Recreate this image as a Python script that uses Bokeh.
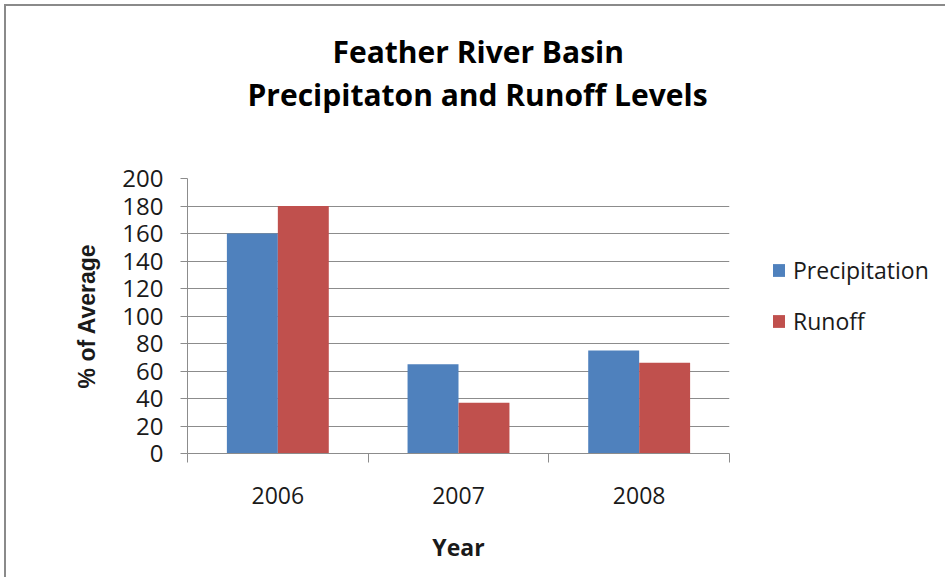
from bokeh.plotting import figure
from bokeh.models import Range1d, FixedTicker, Legend, Title
from bokeh.embed import file_html
from bokeh.resources import INLINE

# ---- data ----
years = ["2006", "2007", "2008"]
precipitation = [160, 65, 75]
runoff = [180, 37, 66]
y_ticks = [0, 20, 40, 60, 80, 100, 120, 140, 160, 180, 200]
title_lines = ["Feather River Basin", "Precipitaton and Runoff Levels"]
series_names = ["Precipitation", "Runoff"]
series_colors = ["#4F81BD", "#C0504D"]

BAR_W = 0.282
centers = [i + 0.5 for i in range(len(years))]
bounds = [float(i) for i in range(len(years) + 1)]

p = figure(
    frame_width=542, frame_height=275,
    min_border_left=181, min_border_right=216,
    min_border_top=172, min_border_bottom=124,
    x_range=Range1d(0, len(years)), y_range=Range1d(0, 200),
    output_backend="svg", toolbar_location=None,
    stylesheets=[":host { margin-left: 4px; margin-top: 4px; "
                 "border-left: 2px solid #8a8a8a; border-top: 2px solid #8a8a8a; }"],
)
p.outline_line_color = None
p.background_fill_color = "white"
p.border_fill_color = "white"

r1 = p.vbar(x=[c - BAR_W / 2 for c in centers], top=precipitation, width=BAR_W,
            fill_color=series_colors[0], line_color=None)
r2 = p.vbar(x=[c + BAR_W / 2 for c in centers], top=runoff, width=BAR_W,
            fill_color=series_colors[1], line_color=None)

# grid
p.xgrid.visible = False
p.ygrid.ticker = FixedTicker(ticks=y_ticks)
p.ygrid.grid_line_color = "#8c8c8c"
p.ygrid.grid_line_width = 1

AX = "#8c8c8c"
FONT = "Open Sans"

# y axis
ya = p.yaxis[0]
ya.ticker = FixedTicker(ticks=y_ticks)
ya.axis_line_color = AX
ya.major_tick_line_color = AX
ya.major_tick_out = 7
ya.major_tick_in = 0
ya.minor_tick_line_color = None
ya.major_label_text_font = FONT
ya.major_label_text_font_size = "24px"
ya.major_label_text_color = "#1a1a1a"
ya.major_label_standoff = 17
ya.axis_label = "% of Average"
ya.axis_label_text_font = "Liberation Sans"
ya.axis_label_text_font_style = "bold"
ya.axis_label_text_font_size = "23px"
ya.axis_label_text_color = "#1a1a1a"
ya.axis_label_standoff = 19

# x axis
xa = p.xaxis[0]
xa.ticker = FixedTicker(ticks=centers, minor_ticks=bounds)
xa.major_label_overrides = {c: y for c, y in zip(centers, years)}
xa.axis_line_color = AX
xa.major_tick_line_color = None
xa.major_tick_out = 0
xa.major_tick_in = 0
xa.minor_tick_line_color = AX
xa.minor_tick_out = 9
xa.minor_tick_in = 0
xa.major_label_text_font = FONT
xa.major_label_text_font_size = "23px"
xa.major_label_text_color = "#1a1a1a"
xa.major_label_standoff = 24
xa.axis_label = "Year"
xa.axis_label_text_font = FONT
xa.axis_label_text_font_style = "bold"
xa.axis_label_text_font_size = "23px"
xa.axis_label_text_color = "#1a1a1a"
xa.axis_label_standoff = 24

# title: spacer closest to the frame, then line 2, then line 1
p.add_layout(Title(text=" ", text_font=FONT, text_font_size="10px",
                   standoff=48), "above")
p.add_layout(Title(text=title_lines[1], align="left", offset=60,
                   text_font=FONT, text_font_style="bold",
                   text_font_size="30px", text_color="#000000",
                   standoff=0), "above")
p.add_layout(Title(text=title_lines[0], align="left", offset=145,
                   text_font=FONT, text_font_style="bold",
                   text_font_size="30px", text_color="#000000",
                   standoff=0), "above")

legend = Legend(items=[(series_names[0], [r1]), (series_names[1], [r2])],
                location=(42, 116), orientation="vertical",
                glyph_width=15, glyph_height=16, label_height=30, spacing=19,
                label_standoff=7, padding=0, margin=0,
                border_line_color=None, background_fill_alpha=0,
                label_text_font=FONT, label_text_font_size="23px",
                label_text_color="#1a1a1a")
p.add_layout(legend, "right")

open("out.html", "w").write(file_html(p, INLINE))
